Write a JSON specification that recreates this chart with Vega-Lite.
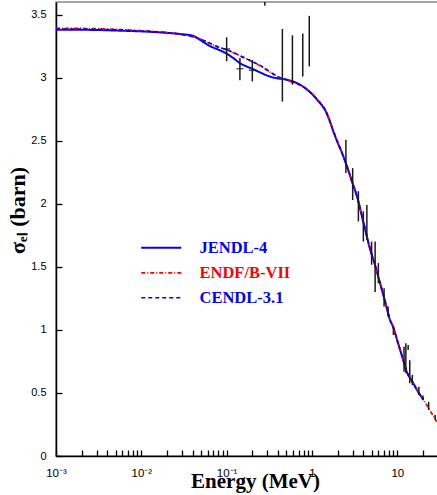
{
  "$schema": "https://vega.github.io/schema/vega-lite/v6.json",
  "width": 382,
  "height": 454,
  "autosize": "none",
  "padding": {"left": 56, "top": 2, "right": 0, "bottom": 39},
  "background": "white",
  "config": {
    "view": {"stroke": "#888888", "strokeWidth": 1.5},
    "font": "Liberation Sans"
  },
  "datasets": {
    "curves": [
      {"E": 0.001, "sigma": 3.381, "lib": "JENDL-4"},
      {"E": 0.003, "sigma": 3.378, "lib": "JENDL-4"},
      {"E": 0.006, "sigma": 3.372, "lib": "JENDL-4"},
      {"E": 0.01, "sigma": 3.367, "lib": "JENDL-4"},
      {"E": 0.02, "sigma": 3.355, "lib": "JENDL-4"},
      {"E": 0.03, "sigma": 3.345, "lib": "JENDL-4"},
      {"E": 0.04, "sigma": 3.333, "lib": "JENDL-4"},
      {"E": 0.05, "sigma": 3.295, "lib": "JENDL-4"},
      {"E": 0.064, "sigma": 3.25, "lib": "JENDL-4"},
      {"E": 0.08, "sigma": 3.222, "lib": "JENDL-4"},
      {"E": 0.096, "sigma": 3.197, "lib": "JENDL-4"},
      {"E": 0.12, "sigma": 3.155, "lib": "JENDL-4"},
      {"E": 0.143, "sigma": 3.115, "lib": "JENDL-4"},
      {"E": 0.17, "sigma": 3.09, "lib": "JENDL-4"},
      {"E": 0.2, "sigma": 3.07, "lib": "JENDL-4"},
      {"E": 0.25, "sigma": 3.04, "lib": "JENDL-4"},
      {"E": 0.3, "sigma": 3.016, "lib": "JENDL-4"},
      {"E": 0.39, "sigma": 2.995, "lib": "JENDL-4"},
      {"E": 0.5, "sigma": 2.985, "lib": "JENDL-4"},
      {"E": 0.6, "sigma": 2.97, "lib": "JENDL-4"},
      {"E": 0.72, "sigma": 2.945, "lib": "JENDL-4"},
      {"E": 0.85, "sigma": 2.912, "lib": "JENDL-4"},
      {"E": 1.0, "sigma": 2.87, "lib": "JENDL-4"},
      {"E": 1.2, "sigma": 2.81, "lib": "JENDL-4"},
      {"E": 1.42, "sigma": 2.745, "lib": "JENDL-4"},
      {"E": 1.6, "sigma": 2.665, "lib": "JENDL-4"},
      {"E": 1.78, "sigma": 2.574, "lib": "JENDL-4"},
      {"E": 2.0, "sigma": 2.485, "lib": "JENDL-4"},
      {"E": 2.2, "sigma": 2.42, "lib": "JENDL-4"},
      {"E": 2.57, "sigma": 2.296, "lib": "JENDL-4"},
      {"E": 3.0, "sigma": 2.16, "lib": "JENDL-4"},
      {"E": 3.37, "sigma": 2.058, "lib": "JENDL-4"},
      {"E": 4.0, "sigma": 1.855, "lib": "JENDL-4"},
      {"E": 4.8, "sigma": 1.64, "lib": "JENDL-4"},
      {"E": 5.5, "sigma": 1.512, "lib": "JENDL-4"},
      {"E": 6.2, "sigma": 1.383, "lib": "JENDL-4"},
      {"E": 7.2, "sigma": 1.225, "lib": "JENDL-4"},
      {"E": 8.2, "sigma": 1.08, "lib": "JENDL-4"},
      {"E": 9.0, "sigma": 1.019, "lib": "JENDL-4"},
      {"E": 10, "sigma": 0.915, "lib": "JENDL-4"},
      {"E": 11.5, "sigma": 0.781, "lib": "JENDL-4"},
      {"E": 12.9, "sigma": 0.669, "lib": "JENDL-4"},
      {"E": 15, "sigma": 0.59, "lib": "JENDL-4"},
      {"E": 17.5, "sigma": 0.51, "lib": "JENDL-4"},
      {"E": 20.3, "sigma": 0.444, "lib": "JENDL-4"},

      {"E": 0.001, "sigma": 3.392, "lib": "ENDF/B-VII"},
      {"E": 0.003, "sigma": 3.388, "lib": "ENDF/B-VII"},
      {"E": 0.006, "sigma": 3.38, "lib": "ENDF/B-VII"},
      {"E": 0.01, "sigma": 3.372, "lib": "ENDF/B-VII"},
      {"E": 0.02, "sigma": 3.358, "lib": "ENDF/B-VII"},
      {"E": 0.03, "sigma": 3.343, "lib": "ENDF/B-VII"},
      {"E": 0.05, "sigma": 3.305, "lib": "ENDF/B-VII"},
      {"E": 0.076, "sigma": 3.247, "lib": "ENDF/B-VII"},
      {"E": 0.1, "sigma": 3.22, "lib": "ENDF/B-VII"},
      {"E": 0.157, "sigma": 3.16, "lib": "ENDF/B-VII"},
      {"E": 0.246, "sigma": 3.095, "lib": "ENDF/B-VII"},
      {"E": 0.386, "sigma": 3.012, "lib": "ENDF/B-VII"},
      {"E": 0.55, "sigma": 2.972, "lib": "ENDF/B-VII"},
      {"E": 0.7, "sigma": 2.948, "lib": "ENDF/B-VII"},
      {"E": 0.85, "sigma": 2.915, "lib": "ENDF/B-VII"},
      {"E": 1.0, "sigma": 2.875, "lib": "ENDF/B-VII"},
      {"E": 1.2, "sigma": 2.815, "lib": "ENDF/B-VII"},
      {"E": 1.42, "sigma": 2.75, "lib": "ENDF/B-VII"},
      {"E": 1.6, "sigma": 2.665, "lib": "ENDF/B-VII"},
      {"E": 1.78, "sigma": 2.58, "lib": "ENDF/B-VII"},
      {"E": 2.0, "sigma": 2.49, "lib": "ENDF/B-VII"},
      {"E": 2.2, "sigma": 2.42, "lib": "ENDF/B-VII"},
      {"E": 2.57, "sigma": 2.3, "lib": "ENDF/B-VII"},
      {"E": 3.0, "sigma": 2.16, "lib": "ENDF/B-VII"},
      {"E": 3.37, "sigma": 2.06, "lib": "ENDF/B-VII"},
      {"E": 4.0, "sigma": 1.86, "lib": "ENDF/B-VII"},
      {"E": 4.8, "sigma": 1.645, "lib": "ENDF/B-VII"},
      {"E": 5.5, "sigma": 1.515, "lib": "ENDF/B-VII"},
      {"E": 6.2, "sigma": 1.385, "lib": "ENDF/B-VII"},
      {"E": 7.2, "sigma": 1.225, "lib": "ENDF/B-VII"},
      {"E": 8.2, "sigma": 1.085, "lib": "ENDF/B-VII"},
      {"E": 9.0, "sigma": 1.015, "lib": "ENDF/B-VII"},
      {"E": 10, "sigma": 0.915, "lib": "ENDF/B-VII"},
      {"E": 11.5, "sigma": 0.78, "lib": "ENDF/B-VII"},
      {"E": 12.9, "sigma": 0.67, "lib": "ENDF/B-VII"},
      {"E": 15, "sigma": 0.59, "lib": "ENDF/B-VII"},
      {"E": 17.5, "sigma": 0.51, "lib": "ENDF/B-VII"},
      {"E": 20.3, "sigma": 0.445, "lib": "ENDF/B-VII"},
      {"E": 23.3, "sigma": 0.379, "lib": "ENDF/B-VII"},
      {"E": 26, "sigma": 0.325, "lib": "ENDF/B-VII"},
      {"E": 29, "sigma": 0.272, "lib": "ENDF/B-VII"},

      {"E": 0.001, "sigma": 3.386, "lib": "CENDL-3.1"},
      {"E": 0.003, "sigma": 3.384, "lib": "CENDL-3.1"},
      {"E": 0.006, "sigma": 3.378, "lib": "CENDL-3.1"},
      {"E": 0.01, "sigma": 3.37, "lib": "CENDL-3.1"},
      {"E": 0.02, "sigma": 3.357, "lib": "CENDL-3.1"},
      {"E": 0.03, "sigma": 3.342, "lib": "CENDL-3.1"},
      {"E": 0.05, "sigma": 3.304, "lib": "CENDL-3.1"},
      {"E": 0.076, "sigma": 3.249, "lib": "CENDL-3.1"},
      {"E": 0.1, "sigma": 3.222, "lib": "CENDL-3.1"},
      {"E": 0.157, "sigma": 3.162, "lib": "CENDL-3.1"},
      {"E": 0.246, "sigma": 3.097, "lib": "CENDL-3.1"},
      {"E": 0.386, "sigma": 3.014, "lib": "CENDL-3.1"},
      {"E": 0.55, "sigma": 2.973, "lib": "CENDL-3.1"},
      {"E": 0.7, "sigma": 2.946, "lib": "CENDL-3.1"},
      {"E": 0.85, "sigma": 2.913, "lib": "CENDL-3.1"},
      {"E": 1.0, "sigma": 2.872, "lib": "CENDL-3.1"},
      {"E": 1.2, "sigma": 2.812, "lib": "CENDL-3.1"},
      {"E": 1.42, "sigma": 2.747, "lib": "CENDL-3.1"},
      {"E": 1.6, "sigma": 2.665, "lib": "CENDL-3.1"},
      {"E": 1.78, "sigma": 2.577, "lib": "CENDL-3.1"},
      {"E": 2.0, "sigma": 2.487, "lib": "CENDL-3.1"},
      {"E": 2.2, "sigma": 2.42, "lib": "CENDL-3.1"},
      {"E": 2.57, "sigma": 2.298, "lib": "CENDL-3.1"},
      {"E": 3.0, "sigma": 2.16, "lib": "CENDL-3.1"},
      {"E": 3.37, "sigma": 2.059, "lib": "CENDL-3.1"},
      {"E": 4.0, "sigma": 1.857, "lib": "CENDL-3.1"},
      {"E": 4.8, "sigma": 1.642, "lib": "CENDL-3.1"},
      {"E": 5.5, "sigma": 1.513, "lib": "CENDL-3.1"},
      {"E": 6.2, "sigma": 1.384, "lib": "CENDL-3.1"},
      {"E": 7.2, "sigma": 1.225, "lib": "CENDL-3.1"},
      {"E": 8.2, "sigma": 1.082, "lib": "CENDL-3.1"},
      {"E": 9.0, "sigma": 1.017, "lib": "CENDL-3.1"},
      {"E": 10, "sigma": 0.915, "lib": "CENDL-3.1"},
      {"E": 11.5, "sigma": 0.78, "lib": "CENDL-3.1"},
      {"E": 12.9, "sigma": 0.669, "lib": "CENDL-3.1"},
      {"E": 15, "sigma": 0.59, "lib": "CENDL-3.1"},
      {"E": 17.5, "sigma": 0.51, "lib": "CENDL-3.1"},
      {"E": 20.3, "sigma": 0.444, "lib": "CENDL-3.1"}
    ],
    "exp": [
      {"E": 0.1, "lo": 3.13, "hi": 3.32},
      {"E": 0.143, "lo": 2.98, "hi": 3.156},
      {"E": 0.2, "lo": 2.97, "hi": 3.14},
      {"E": 0.28, "lo": 3.57, "hi": 3.75},
      {"E": 0.45, "lo": 2.81, "hi": 3.386},
      {"E": 0.59, "lo": 2.944, "hi": 3.336},
      {"E": 0.78, "lo": 3.01, "hi": 3.35},
      {"E": 0.93, "lo": 3.09, "hi": 3.49},
      {"E": 2.5, "lo": 2.244, "hi": 2.508},
      {"E": 3.0, "lo": 2.03, "hi": 2.283},
      {"E": 3.5, "lo": 1.86, "hi": 2.1},
      {"E": 4.0, "lo": 1.7, "hi": 1.94},
      {"E": 4.4, "lo": 1.714, "hi": 1.99},
      {"E": 5.0, "lo": 1.516, "hi": 1.7},
      {"E": 5.5, "lo": 1.3, "hi": 1.7},
      {"E": 6.0, "lo": 1.37, "hi": 1.53},
      {"E": 7.0, "lo": 1.185, "hi": 1.33},
      {"E": 7.8, "lo": 1.105, "hi": 1.185},
      {"E": 9.0, "lo": 0.96, "hi": 1.026},
      {"E": 12.0, "lo": 0.669, "hi": 0.867},
      {"E": 12.6, "lo": 0.656, "hi": 0.894},
      {"E": 13.4, "lo": 0.84, "hi": 0.88},
      {"E": 14.0, "lo": 0.577, "hi": 0.76},
      {"E": 15.0, "lo": 0.563, "hi": 0.643},
      {"E": 17.9, "lo": 0.484, "hi": 0.55},
      {"E": 20.0, "lo": 0.444, "hi": 0.48},
      {"E": 23.3, "lo": 0.365, "hi": 0.43},
      {"E": 27.8, "lo": 0.286, "hi": 0.325}
    ],
    "xerr": [
      {"E": 0.1, "sigma": 3.228},
      {"E": 0.143, "sigma": 3.071},
      {"E": 0.2, "sigma": 3.058}
    ]
  },
  "layer": [
    {
      "data": {"name": "curves"},
      "mark": {"type": "line", "interpolate": "monotone", "clip": true},
      "encoding": {
        "x": {
          "field": "E", "type": "quantitative",
          "scale": {"type": "log", "domain": [0.001, 30], "nice": false},
          "axis": {
            "orient": "bottom",
            "values": [0.001, 0.002, 0.003, 0.004, 0.005, 0.006, 0.007, 0.008, 0.009, 0.01, 0.02, 0.03, 0.04, 0.05, 0.06, 0.07, 0.08, 0.09, 0.1, 0.2, 0.3, 0.4, 0.5, 0.6, 0.7, 0.8, 0.9, 1, 2, 3, 4, 5, 6, 7, 8, 9, 10, 20],
            "labelExpr": "datum.value == 1 ? '1' : datum.value == 10 ? '10' : datum.value == 0.1 ? '10⁻¹' : datum.value == 0.01 ? '10⁻²' : datum.value == 0.001 ? '10⁻³' : ''",
            "ticks": true,
            "tickSize": -6,
            "tickColor": "black",
            "tickWidth": 1.3,
            "grid": false,
            "domainColor": "black",
            "domainWidth": 1.5,
            "labelFont": "Liberation Sans",
            "labelFontSize": 11.5,
            "labelColor": "black",
            "labelPadding": 17,
            "labelFlush": false,
            "labelOverlap": false,
            "title": "Energy (MeV)",
            "titleFont": "Liberation Serif",
            "titleFontWeight": "bold",
            "titleFontSize": 21,
            "titleColor": "black",
            "titleX": 199,
            "titleY": 31,
            "titleBaseline": "alphabetic",
            "titleAlign": "center"
          }
        },
        "y": {
          "field": "sigma", "type": "quantitative",
          "scale": {"domain": [0, 3.6], "nice": false, "zero": false},
          "axis": {
            "orient": "left",
            "values": [0, 0.25, 0.5, 0.75, 1, 1.25, 1.5, 1.75, 2, 2.25, 2.5, 2.75, 3, 3.25, 3.5],
            "labelExpr": "datum.value % 0.5 == 0 ? format(datum.value, '~g') : ''",
            "ticks": true,
            "tickSize": -6,
            "tickColor": "black",
            "tickWidth": 1.3,
            "grid": false,
            "domainColor": "black",
            "domainWidth": 1.5,
            "labelFont": "Liberation Sans",
            "labelFontSize": 11,
            "labelColor": "black",
            "labelPadding": 16,
            "labelFlush": false,
            "labelOverlap": false,
            "title": "σₑₗ (barn)",
            "titleFont": "Liberation Serif",
            "titleFontWeight": "bold",
            "titleFontSize": 22,
            "titleColor": "black",
            "titleAngle": -90,
            "titleX": -32,
            "titleY": 208,
            "titleBaseline": "alphabetic",
            "titleAlign": "center"
          }
        },
        "color": {
          "field": "lib", "type": "nominal",
          "scale": {"domain": ["JENDL-4", "ENDF/B-VII", "CENDL-3.1"], "range": ["#0000ff", "#ff0000", "#0000ff"]},
          "legend": {
            "orient": "none",
            "legendX": 97,
            "legendY": 237.5,
            "title": null,
            "padding": 0,
            "symbolType": "M-4,0H4",
            "symbolSize": 100,
            "symbolStrokeWidth": 1.8,
            "symbolFillColor": "transparent",
            "labelOffset": 30,
            "labelFont": "Liberation Serif",
            "labelFontWeight": "bold",
            "labelFontSize": 16.5,
            "labelColor": {"expr": "datum.label == 'ENDF/B-VII' ? '#ff0000' : '#0000ff'"},
            "rowPadding": 8
          }
        },
        "strokeDash": {
          "field": "lib", "type": "nominal",
          "scale": {"domain": ["JENDL-4", "ENDF/B-VII", "CENDL-3.1"], "range": [[1, 0], [4, 2, 1, 2], [4, 3]]},
          "legend": null
        },
        "strokeWidth": {
          "field": "lib", "type": "nominal",
          "scale": {"domain": ["JENDL-4", "ENDF/B-VII", "CENDL-3.1"], "range": [2, 1.5, 1.5]},
          "legend": null
        }
      }
    },
    {
      "data": {"name": "exp"},
      "mark": {"type": "rule", "color": "#1a1a1a", "strokeWidth": 1.5, "clip": true},
      "encoding": {
        "x": {"field": "E", "type": "quantitative"},
        "y": {"field": "lo", "type": "quantitative"},
        "y2": {"field": "hi"}
      }
    },
    {
      "data": {"name": "xerr"},
      "mark": {"type": "tick", "orient": "horizontal", "color": "#1a1a1a", "size": 7, "thickness": 1.5},
      "encoding": {
        "x": {"field": "E", "type": "quantitative"},
        "y": {"field": "sigma", "type": "quantitative"}
      }
    }
  ]
}
